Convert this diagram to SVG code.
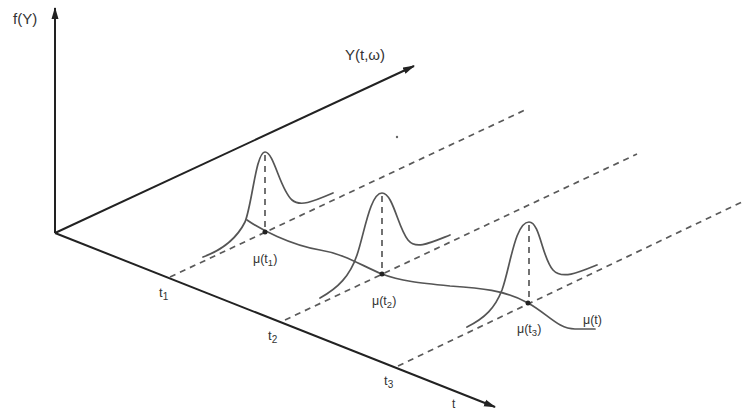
<svg xmlns="http://www.w3.org/2000/svg" width="742" height="410" viewBox="0 0 742 410">
<style>
.axis{stroke:#222;stroke-width:2;fill:none}
.curve{stroke:#555;stroke-width:1.7;fill:none;stroke-linecap:round}
.dash{stroke:#5a5a5a;stroke-width:1.7;fill:none;stroke-dasharray:6 5}
.lbl{font-family:"Liberation Sans",Arial,sans-serif;fill:#333}
.dot{fill:#222}
</style>
<defs>
<marker id="arr" viewBox="0 0 12 8" refX="11" refY="4" markerWidth="12" markerHeight="8" markerUnits="userSpaceOnUse" orient="auto">
<path d="M0,0.5 L12,4 L0,7.5 Z" fill="#222"/>
</marker>
</defs>
<rect width="742" height="410" fill="#fff"/>
<g id="axes">
<line class="axis" x1="55" y1="233" x2="55" y2="8" marker-end="url(#arr)"/>
<line class="axis" x1="55" y1="233" x2="414" y2="66" marker-end="url(#arr)"/>
<line class="axis" x1="55" y1="233" x2="495" y2="407" marker-end="url(#arr)"/>
<text class="lbl" x="13" y="24" font-size="15">f(Y)</text>
<text class="lbl" x="345" y="60" font-size="15">Y(t,ω)</text>
<text class="lbl" x="452" y="408" font-size="12">t</text>
</g>
<g id="connectors">
<line class="dash" x1="170" y1="277" x2="525" y2="110"/>
<line class="dash" x1="285" y1="320" x2="637" y2="154"/>
<line class="dash" x1="398" y1="366" x2="742" y2="202"/>
<line class="dash" x1="265" y1="155" x2="265" y2="232"/>
<line class="dash" x1="382" y1="196" x2="382" y2="274"/>
<line class="dash" x1="529" y1="225" x2="529" y2="303"/>
</g>
<g id="density1">
<path class="curve" d="M203,257 C222,250 236,240 245,222 C252,205 256,152 265,152 C274,152 280,190 292,200 C300,207 312,202 333,193"/>
</g>
<g id="density2">
<path class="curve" d="M320,298 C338,288 350,276 357,255 C364,235 370,193 382,193 C393,193 398,228 408,240 C416,250 430,243 450,235"/>
</g>
<g id="density3">
<path class="curve" d="M467,327 C485,318 495,308 502,290 C510,268 515,222 529,222 C540,222 542,258 553,270 C562,280 580,272 597,265"/>
</g>
<g id="mean-curve">
<path class="curve" d="M247,220 C260,229 290,245 320,250 C345,254 362,266 382,274 C400,281 420,283 450,286 C480,288 505,290 528,303 C548,314 558,329 575,329 L595,329"/>
<text class="lbl" x="583" y="324" font-size="12.5">μ(t)</text>
</g>
<g id="t1">
<circle class="dot" cx="265" cy="232" r="2.5"/>
<text class="lbl" x="253" y="263" font-size="12.5">μ(t<tspan font-size="9.5" dy="3">1</tspan><tspan dy="-3">)</tspan></text>
<text class="lbl" x="159" y="297" font-size="13">t<tspan font-size="10" dy="3">1</tspan></text>
</g>
<g id="t2">
<circle class="dot" cx="382" cy="274" r="2.5"/>
<text class="lbl" x="372" y="305" font-size="12.5">μ(t<tspan font-size="9.5" dy="3">2</tspan><tspan dy="-3">)</tspan></text>
<text class="lbl" x="268" y="340" font-size="13">t<tspan font-size="10" dy="3">2</tspan></text>
</g>
<g id="t3">
<circle class="dot" cx="528" cy="303" r="2.5"/>
<text class="lbl" x="517" y="333" font-size="12.5">μ(t<tspan font-size="9.5" dy="3">3</tspan><tspan dy="-3">)</tspan></text>
<text class="lbl" x="384" y="385" font-size="13">t<tspan font-size="10" dy="3">3</tspan></text>
</g>
<circle cx="397" cy="137" r="1.2" fill="#666"/>
</svg>
